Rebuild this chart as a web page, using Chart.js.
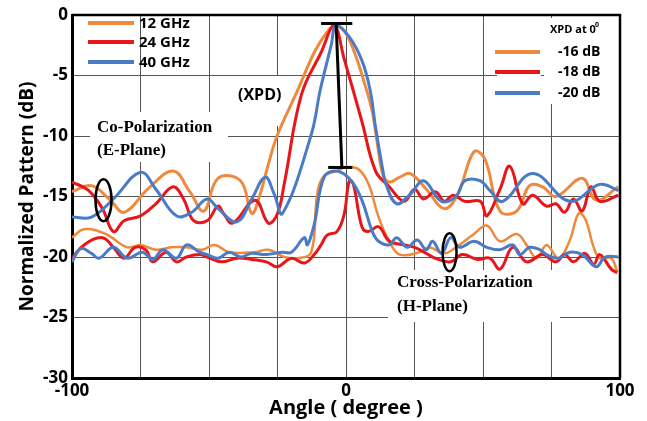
<!DOCTYPE html>
<html><head><meta charset="utf-8">
<script src="https://cdn.jsdelivr.net/npm/chart.js@4.4.0/dist/chart.umd.min.js"></script>
<style>html,body{margin:0;padding:0;background:#fff;}canvas{display:block;}</style>
</head><body>
<canvas id="c" width="647" height="421"></canvas>
<script>
// ---- Data (angle in degrees, pattern in dB) ----
const angleCo12 = [-100,-92.9,-86,-81,-72,-63.1,-57,-51.9,-46.7,-38.5,-34.4,-31.6,-28.3,-25,-17.8,-11.6,-7.2,-4.3,-0.7,3.1,6.9,9.6,11.5,13.5,15.8,19.6,23.5,29.3,35.9,40.8,46.7,50.7,56.2,62.3,67,71.7,76.6,86.2,91.3,99.4];
const dbCo12    = [-14.6,-14.1,-15.3,-16.3,-14.3,-12.9,-14.6,-16.2,-13.5,-13.7,-16.4,-15,-12.3,-9.9,-6.3,-3.1,-1.5,-0.9,-1.3,-3.1,-5.75,-8.0,-10.7,-13.2,-13.8,-13.4,-13.1,-14.4,-16,-14.8,-11.3,-11.9,-16.2,-16.2,-14.1,-14.2,-15,-13.5,-15.3,-14.2];

const angleCo24 = [-100,-94,-88.9,-84.9,-81,-75,-69.4,-63.1,-59.3,-55.6,-50.7,-46.7,-44.7,-41.4,-33.2,-28.3,-25,-22.5,-16.3,-9.1,-4.3,-0.7,5.8,10.8,15.8,21.2,25,28.3,32.6,35.9,39.1,43.4,49,51.4,56.2,59.8,64.5,68.1,73.2,76.6,79.8,83,86.2,89.4,92.6,99.4];
const dbCo24    = [-13.8,-14.5,-16,-17.9,-17,-16.6,-15.6,-14.2,-15.2,-17,-17,-15.8,-16.4,-17.2,-15.3,-17.2,-16.4,-13.9,-6.6,-3.1,-0.9,-3.6,-8.8,-12.9,-14.2,-15.4,-14.4,-15.2,-14.6,-15.4,-14.9,-15.4,-15.4,-16.6,-14.4,-12.5,-15.6,-14.9,-15.8,-15.6,-16.3,-15.2,-16.2,-14.2,-15.4,-14.9];

const angleCo40 = [-100,-92.9,-84.9,-75,-69.4,-61.9,-56.3,-50.7,-46.7,-39.8,-34.4,-29.5,-26.2,-23.2,-12.7,-9.4,-5.4,-3.6,1.2,5.8,8.8,10.8,13.5,14.6,18.5,23.5,28.3,34.9,40.1,43.4,49,52.5,57.2,68.1,81.7,92.6,99.4];
const dbCo40    = [-16.7,-16.7,-15.2,-13,-14.4,-16.6,-16.3,-15.2,-16,-17.1,-15.2,-13.4,-14.8,-16.4,-9.9,-6.2,-2.5,-0.9,-1.8,-3.75,-6.2,-9.3,-12.9,-14,-15.6,-14.8,-13.7,-15.4,-15,-13.7,-13.7,-14.5,-15.4,-13.1,-15.4,-14,-14.5];

const angleX12 = [-100,-95.6,-87.7,-79.8,-75,-69.4,-63.8,-58.2,-52.6,-48,-42.6,-33.2,-28.3,-22.5,-17.8,-12.7,-10.5,-8,-3.3,-0.7,4.2,8.1,11.9,15.8,19.6,27,30.3,35.9,40.1,46.7,51.4,56.2,62.3,65.9,69.6,73.2,77.6,81.7,84.9,87.4,90.4,92.6,96.8,99];
const dbX12    = [-18.4,-17.7,-18.1,-19.2,-19,-19.4,-19.2,-19.2,-19.4,-19,-19.6,-19.6,-19.4,-20,-20.1,-19.6,-14.8,-13.3,-12.9,-12.6,-12.7,-13.9,-16.7,-18.7,-19.8,-19.6,-19.2,-19.7,-19.2,-18.1,-17.4,-18.7,-18.1,-19,-20.1,-19,-20.1,-18.6,-16.4,-16.9,-19.2,-20.1,-20.1,-21.2];

const angleX24 = [-100,-95.6,-88.9,-84.9,-81,-77,-73.1,-70.5,-65.7,-61.9,-58.2,-53.4,-50.7,-45.5,-39.8,-34.4,-29.1,-25,-19.9,-15.2,-11.6,-9.1,-6.9,-3.3,-0.7,1.2,2.7,5.8,8.1,11.9,15.8,21.2,25,29.3,32.6,38.2,42.4,48,52.5,56.2,60.9,65.9,71.7,76.6,79.8,83,87.2,90.4,92.6,96.8,99];
const dbX24    = [-20.1,-19,-18.4,-19.2,-20.1,-19.2,-19.4,-20.4,-19.6,-20.4,-20,-19.8,-20,-20.4,-20.1,-20.2,-20.4,-20.8,-20.1,-20.5,-19.8,-19,-18.2,-17.9,-16.5,-13.7,-14.0,-17.5,-17.9,-17.5,-18.7,-19,-19.2,-19.7,-20.1,-20.4,-19.8,-20.2,-20.1,-21,-19.2,-20.4,-19.8,-20.4,-19.8,-20.4,-19.7,-20.6,-19.8,-21,-21.3];

const angleX40 = [-100,-96.8,-92.9,-90.1,-84.9,-79.8,-74.3,-70.5,-66.8,-61.9,-58.2,-53.4,-50.7,-46.7,-42.6,-38.5,-34.4,-29.1,-23.6,-19.9,-15.2,-14.1,-11.6,-8,-3.3,1.9,5.8,9.6,11.9,15.8,18.5,22.3,26,29.3,31.6,34.9,38.2,41.4,46.7,51.4,56.2,60.9,63.4,67,70.7,73.2,77.6,81.7,86.2,91.3,94.6,99.4];
const dbX40    = [-20.4,-19.3,-19.7,-20.1,-19.2,-20.1,-19.6,-20.2,-19.4,-20.1,-19,-19.6,-19.8,-20.1,-19.6,-20,-19.7,-19.8,-19.6,-19.6,-18.4,-19,-17.3,-13.4,-12.9,-13.7,-15.3,-17.9,-18.7,-19,-18.4,-19.2,-18.6,-19.4,-18.7,-19.7,-18.4,-19.2,-18.7,-19.2,-19.4,-19,-19.8,-19.2,-19.4,-19.8,-20.1,-19.6,-19.8,-20.8,-20,-20];

// XPD marker (vertical bar with caps)
const xpdBarAngle = [-3.6,-1.5];
const xpdBarDb    = [-0.7,-12.6];
const xpdTopCapAngle = [-9.1,2.3];
const xpdBotCapAngle = [-6.5,2.3];

const freqLabels = ['12 GHz','24 GHz','40 GHz'];
const xpdLabels  = ['-16 dB','-18 dB','-20 dB'];
const xTickLabels = [-100,0,100];
const yTicks = [0,-5,-10,-15,-20,-25,-30];

const ORANGE = '#EE8A3D', RED = '#E8161B', BLUE = '#4A7BC6';
const colors = [ORANGE, RED, BLUE];

function zip(a, b){ return a.map((v,i)=>({x:v, y:b[i]})); }
function curve(a, b, color, w){
  return {data: zip(a,b), borderColor: color, borderWidth: w, pointRadius: 0, tension: 0.4, fill: false};
}
function seg(a, b){
  return {data: zip(a,b), borderColor: '#000', borderWidth: 3, pointRadius: 0, tension: 0, fill: false};
}

const annot = {
  id: 'annot',
  beforeDatasetsDraw(chart){
    const ctx = chart.ctx, ca = chart.chartArea;
    ctx.save();
    ctx.fillStyle = '#fff';
    const L = ca.left, T = ca.top;
    // white boxes behind texts / right legend
    ctx.fillRect(L+18, T+97, 138, 50);    // Co-Polarization
    ctx.fillRect(L+164, T+61, 50, 50);    // (XPD)
    ctx.fillRect(L+316, T+255, 172, 52);  // Cross-Polarization
    ctx.fillRect(L+425, T+3, 44, 86);     // right legend part 1
    ctx.fillRect(L+472, T+3, 75, 86);     // right legend part 2
    ctx.restore();
  },
  afterDatasetsDraw(chart){
    const ctx = chart.ctx, ca = chart.chartArea;
    const xs = chart.scales.x, ys = chart.scales.y;
    const L = ca.left, T = ca.top;
    ctx.save();
    // ellipses marking curves
    ctx.strokeStyle = '#000'; ctx.lineWidth = 2.5;
    ctx.beginPath();
    ctx.ellipse(xs.getPixelForValue(-88.5), ys.getPixelForValue(-15.3), 8, 21, 0, 0, Math.PI*2);
    ctx.stroke();
    ctx.beginPath();
    ctx.ellipse(xs.getPixelForValue(37.8), ys.getPixelForValue(-19.6), 7, 19, 0, 0, Math.PI*2);
    ctx.stroke();

    ctx.fillStyle = '#000';
    ctx.textBaseline = 'middle';
    ctx.textAlign = 'left';
    // serif annotations
    ctx.font = 'bold 17px "Liberation Serif", "DejaVu Serif", serif';
    ctx.fillText('Co-Polarization', L+25, T+113);
    ctx.fillText('(E-Plane)', L+25, T+136);
    ctx.fillText('Cross-Polarization', L+325, T+268);
    ctx.fillText('(H-Plane)', L+325, T+292);
    ctx.font = 'bold 16px "Open Sans", sans-serif';
    ctx.fillText('(XPD)', L+166, T+80);

    // left legend
    ctx.lineCap = 'butt';
    const ly = [8, 27, 47];
    ctx.font = 'bold 15px "Open Sans", sans-serif';
    for (let i=0;i<3;i++){
      ctx.strokeStyle = colors[i]; ctx.lineWidth = 4;
      ctx.beginPath(); ctx.moveTo(L+16, T+ly[i]); ctx.lineTo(L+62, T+ly[i]); ctx.stroke();
      ctx.fillStyle = '#000';
      ctx.fillText(freqLabels[i], L+67, T+ly[i]+1);
    }
    // right legend
    ctx.font = 'bold 11px "Open Sans", sans-serif';
    ctx.fillText('XPD at 0', L+478, T+15);
    ctx.font = 'bold 7px "Open Sans", sans-serif';
    ctx.fillText('0', L+523, T+10);
    const ry = [37, 57, 78];
    ctx.font = 'bold 14px "Open Sans", sans-serif';
    for (let i=0;i<3;i++){
      ctx.strokeStyle = colors[i]; ctx.lineWidth = 4;
      ctx.beginPath(); ctx.moveTo(L+423, T+ry[i]); ctx.lineTo(L+468, T+ry[i]); ctx.stroke();
      ctx.fillStyle = '#000';
      ctx.fillText(xpdLabels[i], L+486, T+ry[i]);
    }
    ctx.restore();
  },
  afterDraw(chart){
    const ctx = chart.ctx, ca = chart.chartArea;
    ctx.save();
    ctx.strokeStyle = '#000'; ctx.lineWidth = 2.5;
    ctx.beginPath();
    ctx.moveTo(ca.left, ca.top); ctx.lineTo(ca.right, ca.top); ctx.lineTo(ca.right, ca.bottom);
    ctx.stroke();
    ctx.restore();
  }
};

new Chart(document.getElementById('c'), {
  type: 'line',
  data: {
    datasets: [
      seg(xpdBarAngle, xpdBarDb),
      seg(xpdTopCapAngle, [xpdBarDb[0], xpdBarDb[0]]),
      seg(xpdBotCapAngle, [xpdBarDb[1], xpdBarDb[1]]),
      curve(angleCo40, dbCo40, BLUE, 3),
      curve(angleCo24, dbCo24, RED, 3),
      curve(angleCo12, dbCo12, ORANGE, 3),
      curve(angleX40, dbX40, BLUE, 3),
      curve(angleX24, dbX24, RED, 3),
      curve(angleX12, dbX12, ORANGE, 2.5)
    ]
  },
  options: {
    responsive: false, animation: false, devicePixelRatio: 1,
    layout: {padding: {left: 16, right: 27, top: 15, bottom: 0}},
    plugins: {legend: {display: false}, tooltip: {enabled: false}},
    scales: {
      x: {
        type: 'linear', min: -100, max: 100,
        afterFit: s => { s.height = 43; },
        ticks: {stepSize: 25, autoSkip: false, maxRotation: 0, padding: 3,
          callback: v => xTickLabels.includes(v) ? String(v) : '',
          color: '#000', font: {family: '"Open Sans", sans-serif', weight: 'bold', size: 17}},
        grid: {color: '#555', lineWidth: 1, drawTicks: false},
        border: {color: '#000', width: 3},
        title: {display: true, text: 'Angle ( degree )', color: '#000', padding: {top: 0, bottom: 1},
          font: {family: '"Open Sans", sans-serif', weight: 'bold', size: 20}}
      },
      y: {
        type: 'linear', min: -30, max: 0,
        afterFit: s => { s.width = 56; },
        afterBuildTicks: s => { s.ticks = yTicks.map(v => ({value: v})); },
        ticks: {padding: 4, color: '#000', font: {family: '"Open Sans", sans-serif', weight: 'bold', size: 17}},
        grid: {color: '#555', lineWidth: 1, drawTicks: false},
        border: {color: '#000', width: 3},
        title: {display: true, text: 'Normalized Pattern (dB)', color: '#000', padding: 0,
          font: {family: '"Open Sans", sans-serif', weight: 'bold', size: 19}}
      }
    }
  },
  plugins: [annot]
});
</script>
</body></html>
